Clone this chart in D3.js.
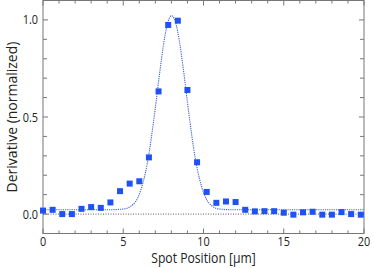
<!DOCTYPE html>
<html>
<head>
<meta charset="utf-8">
<script src="https://cdn.jsdelivr.net/npm/d3@7"></script>
<style>
  body { margin: 0; background: #fff; }
  text { font-family: "Open Sans", sans-serif; fill: #222; }
</style>
</head>
<body>
<script>
// measured spot positions (um) and normalized derivative
var posX = [0, 0.6, 1.2, 1.8, 2.4, 3.0, 3.6, 4.2, 4.8, 5.4, 6.0, 6.6, 7.2, 7.8, 8.4, 9.0, 9.6,
            10.2, 10.8, 11.4, 12.0, 12.6, 13.2, 13.8, 14.4, 15.0, 15.6, 16.2, 16.8, 17.4, 18.0, 18.6, 19.2, 19.8]
var derivY = [0.018, 0.022, 0.0, 0.0, 0.027, 0.036, 0.032, 0.06, 0.118, 0.157, 0.169, 0.292, 0.632, 0.974, 0.996, 0.639, 0.267,
              0.114, 0.058, 0.065, 0.062, 0.022, 0.014, 0.015, 0.015, 0.007, -0.003, 0.009, 0.012, -0.003, -0.003, 0.01, 0.0, -0.003]

// fitted curve
var fitX = [0, 2, 4, 5, 5.5, 6, 6.5, 7, 7.25, 7.5, 7.75, 8, 8.25, 8.5, 8.75, 9, 9.5, 10, 10.5, 11, 12, 14, 16, 18, 20]
var fitY = [0.022, 0.022, 0.022, 0.026, 0.042, 0.102, 0.262, 0.548, 0.715, 0.868, 0.978, 1.022, 0.99, 0.889, 0.742, 0.575, 0.281,
            0.111, 0.044, 0.026, 0.022, 0.022, 0.022, 0.022, 0.022]

var xTicks = [0, 5, 10, 15, 20]
var yTicks = [0, 0.5, 1.0]

var width = 374, height = 268
var plotL = 43, plotR = 364, plotT = 0.5, plotB = 233.5
var axisColor = "#777"
var blue = "#1f51f5"

var svg = d3.select("body").append("svg")
    .attr("width", width)
    .attr("height", height)

var x = d3.scaleLinear().domain([0, 20]).range([plotL, plotR])
var y = d3.scaleLinear().domain([-0.1, 1.1]).range([plotB, plotT])

// frame
svg.append("rect")
    .attr("x", plotL).attr("y", plotT)
    .attr("width", plotR - plotL).attr("height", plotB - plotT)
    .attr("fill", "none").attr("stroke", axisColor).attr("stroke-width", 1)

// ticks, inward on all four sides
var xMinor = d3.range(0, 21, 1)
var yMinor = d3.range(-0.1, 1.11, 0.1).map(function(d){ return Math.round(d * 10) / 10 })
var ticks = svg.append("g").attr("stroke", axisColor).attr("stroke-width", 1)

xMinor.forEach(function(d){
    var len = xTicks.indexOf(d) >= 0 ? 5 : 3
    ticks.append("line").attr("x1", x(d)).attr("x2", x(d)).attr("y1", plotB).attr("y2", plotB - len)
    ticks.append("line").attr("x1", x(d)).attr("x2", x(d)).attr("y1", plotT).attr("y2", plotT + len)
})
yMinor.forEach(function(d){
    var len = yTicks.indexOf(d) >= 0 ? 5 : 4
    ticks.append("line").attr("y1", y(d)).attr("y2", y(d)).attr("x1", plotL).attr("x2", plotL + len)
    ticks.append("line").attr("y1", y(d)).attr("y2", y(d)).attr("x1", plotR).attr("x2", plotR - len)
})

// tick labels
svg.append("g").selectAll("text").data(xTicks).enter().append("text")
    .attr("transform", function(d){ return "translate(" + x(d) + ",246) scale(0.87,1)" })
    .attr("text-anchor", "middle")
    .style("font-size", "12.5px")
    .text(function(d){ return d })

svg.append("g").selectAll("text").data(yTicks).enter().append("text")
    .attr("transform", function(d){ return "translate(38," + (y(d) + 4.5) + ") scale(0.87,1)" })
    .attr("text-anchor", "end")
    .style("font-size", "12.5px")
    .text(function(d){ return d3.format(".1f")(d) })

// axis titles
svg.append("text")
    .attr("transform", "translate(" + ((plotL + plotR) / 2) + ",263) scale(0.87,1)")
    .attr("text-anchor", "middle")
    .style("font-size", "14px")
    .text("Spot Position [\u03bcm]")

svg.append("text")
    .attr("transform", "translate(17," + ((plotT + plotB) / 2) + ") rotate(-90)")
    .attr("text-anchor", "middle")
    .style("font-size", "14px")
    .text("Derivative (normalized)")

// zero line
svg.append("line")
    .attr("x1", plotL).attr("x2", plotR)
    .attr("y1", y(0)).attr("y2", y(0))
    .attr("stroke", "#333").attr("stroke-width", 0.8)
    .attr("stroke-dasharray", "1,1.5")

// fit curve
var fit = fitX.map(function(d, i){ return [d, fitY[i]] })
var line = d3.line()
    .x(function(d){ return x(d[0]) })
    .y(function(d){ return y(d[1]) })
    .curve(d3.curveMonotoneX)

svg.append("path")
    .datum(fit)
    .attr("d", line)
    .attr("fill", "none")
    .attr("stroke", "#3b5fd6")
    .attr("stroke-width", 1.1)
    .attr("stroke-dasharray", "1.2,1")

// data points
var pts = posX.map(function(d, i){ return [d, derivY[i]] })
var s = 6
svg.append("g").selectAll("rect").data(pts).enter().append("rect")
    .attr("x", function(d){ return x(d[0]) - s / 2 })
    .attr("y", function(d){ return y(d[1]) - s / 2 })
    .attr("width", s).attr("height", s)
    .attr("fill", blue)
</script>
</body>
</html>
